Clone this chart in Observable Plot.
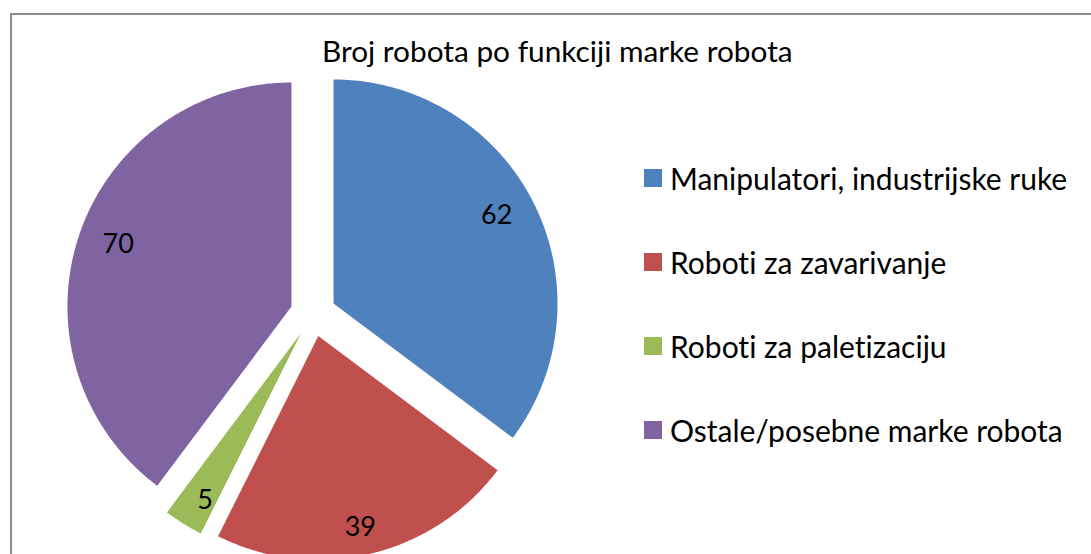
<!DOCTYPE html>
<html>
<head>
<meta charset="utf-8">
<script src="https://cdn.jsdelivr.net/npm/d3@7"></script>
<script src="https://cdn.jsdelivr.net/npm/@observablehq/plot@0.6"></script>
<style>
  html, body { margin: 0; padding: 0; background: #fff; }
  #wrap { position: relative; width: 1091px; height: 554px; overflow: hidden; font-family: Lato, "Open Sans", sans-serif; color: #000; font-variant-ligatures: none; font-feature-settings: "liga" 0, "clig" 0; }
  #frame { position: absolute; left: 10px; top: 13px; width: 1100px; height: 600px; border: 2px solid #8c8c8c; box-sizing: border-box; }
  #chart { position: absolute; left: 0; top: 0; }
  #chart text { font-variant-ligatures: none; }
  #title { position: absolute; left: 322px; top: 36px; font-size: 29.8px; white-space: nowrap; line-height: 1; }
  #legend { position: absolute; left: 644px; top: 0; }
  .item { position: absolute; left: 0; display: flex; align-items: center; white-space: nowrap; font-size: 30px; line-height: 1; }
  .sw { width: 18px; height: 18px; margin-right: 8px; flex: none; }
</style>
</head>
<body>
<div id="wrap">
  <div id="chart"></div>
  <div id="frame"></div>
  <div id="title"></div>
  <div id="legend"></div>
</div>
<script>
// ---- data ----
const categories = ["Manipulatori, industrijske ruke", "Roboti za zavarivanje", "Roboti za paletizaciju", "Ostale/posebne marke robota"];
const values = [62, 39, 5, 70];
const colors = ["#4f81bd", "#c0504d", "#9bbb59", "#8064a2"];
const titleText = "Broj robota po funkciji marke robota";

// ---- layout (pixels) ----
const W = 1091, H = 554;
const cx = 312.6, cy = 313.2, R = 224;   // pie center & radius
const explode = 22.8 / R;                // explosion offset in radius units
const labelFracX = 0.815, labelFracY = 0.88;

// pie angles (clockwise from 12 o'clock)
const arcs = d3.pie().sort(null).value(d => d.value)(categories.map((c, i) => ({cat: c, value: values[i]})));

const polyPts = [];
const labels = [];
arcs.forEach(a => {
  const mid = (a.startAngle + a.endAngle) / 2;
  const ox = explode * Math.sin(mid), oy = explode * Math.cos(mid);
  polyPts.push({cat: a.data.cat, x: ox, y: oy});
  const n = Math.max(8, Math.ceil((a.endAngle - a.startAngle) / 0.01));
  for (let k = 0; k <= n; k++) {
    const t = a.startAngle + (a.endAngle - a.startAngle) * k / n;
    polyPts.push({cat: a.data.cat, x: ox + Math.sin(t), y: oy + Math.cos(t)});
  }
  labels.push({cat: a.data.cat, value: a.data.value, x: ox + labelFracX * Math.sin(mid), y: oy + labelFracY * Math.cos(mid)});
});

const chart = Plot.plot({
  width: W, height: H,
  margin: 0,
  x: {domain: [(0 - cx) / R, (W - cx) / R], axis: null},
  y: {domain: [(cy - H) / R, cy / R], axis: null},
  color: {domain: categories, range: colors},
  marks: [
    Plot.line(polyPts, {x: "x", y: "y", z: "cat", fill: "cat", stroke: "none", curve: "linear-closed"}),
    Plot.text(labels, {x: "x", y: "y", text: d => String(d.value), fontSize: 27, fill: "#000", fontFamily: "Lato, sans-serif"})
  ]
});
document.getElementById("chart").appendChild(chart);

document.getElementById("title").textContent = titleText;
const leg = document.getElementById("legend");
const rowY = [178, 262, 346, 430];
categories.forEach((c, i) => {
  const it = document.createElement("div");
  it.className = "item";
  it.style.top = (rowY[i] - 15) + "px";
  it.style.height = "30px";
  const sw = document.createElement("div");
  sw.className = "sw";
  sw.style.background = colors[i];
  const tx = document.createElement("span");
  tx.textContent = c;
  it.appendChild(sw); it.appendChild(tx);
  leg.appendChild(it);
});
</script>
</body>
</html>
